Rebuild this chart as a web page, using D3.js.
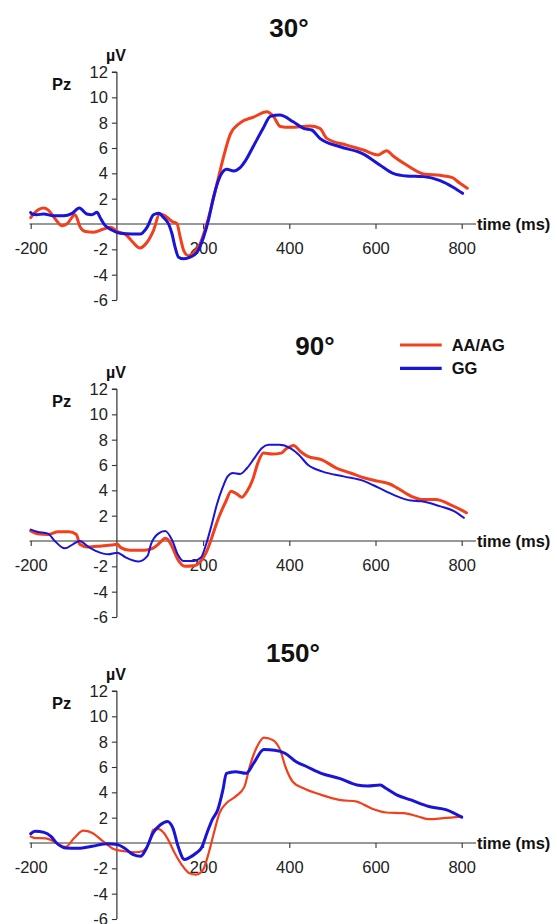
<!DOCTYPE html>
<html><head><meta charset="utf-8">
<script src="https://cdn.jsdelivr.net/npm/d3@7"></script>
<style>body{margin:0;background:#fff}svg{display:block}</style>
</head><body>
<script>
// ---- data (time in ms, amplitude in µV) ----
const panels = ["30°", "90°", "150°"];
const seriesNames = ["AA/AG", "GG"];
const xTicks = [-200, 200, 400, 600, 800];
const yTicks = [12, 10, 8, 6, 4, 2, -2, -4, -6];

const p30_AA = [[-200,0.5],[-193,0.8],[-170,1.26],[-159,1.1],[-143,0.4],[-128,-0.13],[-116,0],[-97,0.73],[-85,-0.26],[-73,-0.6],[-54,-0.65],[-31,-0.4],[-15,-0.26],[4,-0.65],[19,-0.8],[35,-1.36],[53,-1.89],[70,-1.44],[85,-0.5],[99,0.79],[112,0.65],[128,0.2],[139,0.05],[147,-1.05],[155,-2.1],[166,-2.5],[178,-2.3],[193,-1.57],[205,-0.4],[217,1.05],[232,3.14],[247,5.24],[263,7.07],[286,7.99],[317,8.44],[348,8.86],[363,8.5],[379,7.7],[402,7.63],[448,7.73],[471,7.55],[487,6.76],[533,6.23],[572,5.84],[606,5.45],[626,5.79],[641,5.37],[672,4.66],[715,3.92],[750,3.84],[777,3.68],[796,3.21],[813,2.82]];
const p30_GG = [[-200,0.9],[-197,0.79],[-186,0.73],[-170,0.79],[-147,0.65],[-124,0.65],[-104,0.84],[-87,1.26],[-70,0.79],[-58,0.73],[-46,0.92],[-39,0.52],[-29,-0.05],[-12,-0.47],[8,-0.73],[35,-0.79],[54,-0.79],[70,-0.26],[85,0.73],[97,0.84],[108,0.52],[120,0],[128,-0.79],[135,-1.83],[143,-2.62],[155,-2.75],[170,-2.62],[186,-2.23],[201,-1.05],[213,0.39],[224,2.1],[240,3.8],[255,4.32],[271,4.19],[286,4.45],[298,4.98],[317,6.16],[340,7.6],[356,8.5],[378,8.6],[409,8.07],[433,7.55],[452,7.42],[471,6.76],[518,6.1],[572,5.52],[610,4.66],[641,4.0],[672,3.79],[711,3.74],[750,3.42],[780,2.9],[802,2.42]];

const p90_AA = [[-200,0.79],[-185,0.58],[-160,0.52],[-136,0.73],[-111,0.73],[-94,0.52],[-86,-0.26],[-69,-0.47],[-36,-0.39],[-12,-0.31],[1,-0.26],[9,-0.52],[30,-0.73],[63,-0.73],[83,-0.58],[100,-0.13],[112,0.21],[121,0],[129,-0.52],[141,-1.44],[158,-2.0],[179,-1.96],[195,-1.57],[207,-0.92],[220,0.26],[236,1.83],[253,3.14],[265,3.93],[278,3.72],[290,3.46],[302,3.93],[315,4.84],[327,6.15],[340,6.94],[360,6.86],[381,6.94],[393,7.28],[410,7.54],[426,7.07],[443,6.68],[476,6.41],[509,5.76],[542,5.37],[575,4.97],[608,4.71],[633,4.5],[650,4.19],[683,3.53],[707,3.27],[740,3.27],[773,2.88],[811,2.23]];
const p90_GG = [[-200,0.9],[-185,0.73],[-160,0.58],[-144,0],[-121,-0.58],[-102,-0.26],[-86,0],[-69,-0.39],[-45,-0.84],[-20,-1.05],[1,-0.92],[21,-1.31],[50,-1.62],[71,-1.18],[79,-0.26],[96,0.58],[112,0.79],[129,0],[141,-1.05],[154,-1.57],[179,-1.57],[195,-1.31],[207,-0.26],[220,1.31],[232,2.88],[245,4.19],[257,5.1],[269,5.37],[286,5.29],[302,5.76],[319,6.54],[336,7.33],[352,7.59],[377,7.59],[402,7.33],[422,6.81],[443,6.02],[476,5.5],[526,5.1],[575,4.71],[608,4.19],[641,3.66],[683,3.19],[707,3.14],[749,2.75],[782,2.36],[805,1.83]];

const p150_AA = [[-200,0.52],[-190,0.39],[-165,0.37],[-140,0],[-119,-0.31],[-99,0.39],[-78,0.97],[-57,0.79],[-32,0.13],[-8,-0.47],[17,-0.65],[43,-0.73],[59,-0.65],[76,0.13],[84,1.05],[97,1.1],[109,0.79],[121,0.13],[134,-0.79],[150,-1.7],[167,-2.36],[184,-2.49],[200,-2.1],[213,-0.79],[225,0.79],[238,2.36],[254,3.14],[275,3.66],[296,4.45],[308,6.02],[325,7.59],[341,8.32],[362,8.12],[379,7.33],[391,6.02],[408,4.84],[433,4.32],[474,3.8],[516,3.4],[557,3.27],[574,3.01],[599,2.62],[624,2.41],[666,2.36],[699,2.09],[724,1.88],[757,1.96],[800,2.09]];
const p150_GG = [[-200,0.73],[-190,0.92],[-169,0.84],[-153,0.52],[-140,0],[-119,-0.39],[-90,-0.42],[-57,-0.26],[-23,-0.05],[1,-0.13],[17,-0.39],[38,-0.92],[55,-1.05],[67,-0.52],[84,0.79],[101,1.44],[117,1.7],[130,1.18],[142,-0.26],[157,-1.31],[167,-1.18],[184,-0.79],[196,-0.39],[209,0.79],[221,1.83],[234,2.62],[246,4.19],[254,5.5],[275,5.63],[300,5.5],[317,6.28],[341,7.38],[366,7.33],[391,7.07],[416,6.41],[441,6.02],[474,5.5],[516,5.1],[557,4.58],[582,4.5],[611,4.58],[624,4.32],[649,3.8],[682,3.4],[724,2.88],[765,2.62],[800,2.04]];

const panelData = [[p30_AA, p30_GG], [p90_AA, p90_GG], [p150_AA, p150_GG]];

// ---- layout ----
const W = 557, H = 924;
const colors = ["#f2401c", "#1a14d8"];
const dyArr = [0, 317, 619];
const titleX = [289, 315, 293];
const titleY = [37, 355, 662];
const widths = [[3, 3], [3, 2], [2.2, 3]];
const font = "Liberation Sans, Arial, sans-serif";

const svg = d3.select("body").append("svg").attr("width", W).attr("height", H);
const x = d3.scaleLinear().domain([-200, 800]).range([30.7, 461.7]);

panels.forEach((title, i) => {
  const dy = dyArr[i];
  const y = d3.scaleLinear().domain([-6, 12]).range([300 + dy, 72 + dy]);
  const g = svg.append("g");

  // x axis line at 0
  const xa = g.append("g").attr("transform", `translate(0,${y(0)})`)
    .call(d3.axisBottom(x).tickValues(xTicks).tickSize(5).tickSizeOuter(0).tickFormat(d => String(d)));
  xa.select(".domain").remove();
  xa.append("line").attr("x1", 29.5).attr("x2", 476).attr("y1", 0).attr("y2", 0)
    .attr("stroke", "#333").attr("stroke-width", 1.2);
  xa.selectAll(".tick line").attr("stroke", "#333").attr("stroke-width", 1.1);
  xa.selectAll(".tick text").attr("fill", "#222").attr("font-family", font)
    .attr("font-size", 16.5).attr("dy", "0").attr("y", 30);

  // y axis
  const ya = g.append("g").attr("transform", `translate(${x(0)},0)`)
    .call(d3.axisLeft(y).tickValues(yTicks).tickSize(5).tickSizeOuter(0).tickFormat(d => String(d)));
  ya.select(".domain").attr("stroke", "#333").attr("stroke-width", 1.2)
    .attr("d", `M0,${y(12)}H-5M0,${y(12)}V${y(-6)}`);
  ya.selectAll(".tick line").attr("stroke", "#333").attr("stroke-width", 1.1);
  ya.selectAll(".tick text").attr("fill", "#222").attr("font-family", font)
    .attr("font-size", 16.5).attr("x", -9).attr("dy", "0.34em");

  // labels
  g.append("text").attr("x", 477).attr("y", y(0) + 6).text("time (ms)")
    .attr("font-family", font).attr("font-weight", "bold").attr("font-size", 16.5).attr("fill", "#111");
  g.append("text").attr("x", 106).attr("y", 61 + dy).text("µV")
    .attr("font-family", font).attr("font-weight", "bold").attr("font-size", 16).attr("fill", "#111");
  g.append("text").attr("x", 52).attr("y", 90 + dy).text("Pz")
    .attr("font-family", font).attr("font-weight", "bold").attr("font-size", 16.5).attr("fill", "#111");
  g.append("text").attr("x", titleX[i]).attr("y", titleY[i]).text(title)
    .attr("text-anchor", "middle").attr("font-family", font).attr("font-weight", "bold")
    .attr("font-size", 26).attr("fill", "#111");

  // curves
  const line = d3.line().x(d => x(d[0])).y(d => y(d[1])).curve(d3.curveMonotoneX);
  panelData[i].forEach((s, k) => {
    g.append("path").datum(s).attr("d", line).attr("fill", "none")
      .attr("stroke", colors[k]).attr("stroke-width", widths[i][k])
      .attr("stroke-linejoin", "round").attr("stroke-linecap", "round");
  });
});

// legend (in the 90° panel)
const lg = svg.append("g");
seriesNames.forEach((n, k) => {
  const ly = 345 + k * 23.3;
  lg.append("line").attr("x1", 400).attr("x2", 441.7).attr("y1", ly).attr("y2", ly)
    .attr("stroke", colors[k]).attr("stroke-width", 3.2);
  lg.append("text").attr("x", 451.7).attr("y", ly + 6).text(n)
    .attr("font-family", font).attr("font-weight", "bold").attr("font-size", 16.5).attr("fill", "#111");
});
</script>
</body></html>
